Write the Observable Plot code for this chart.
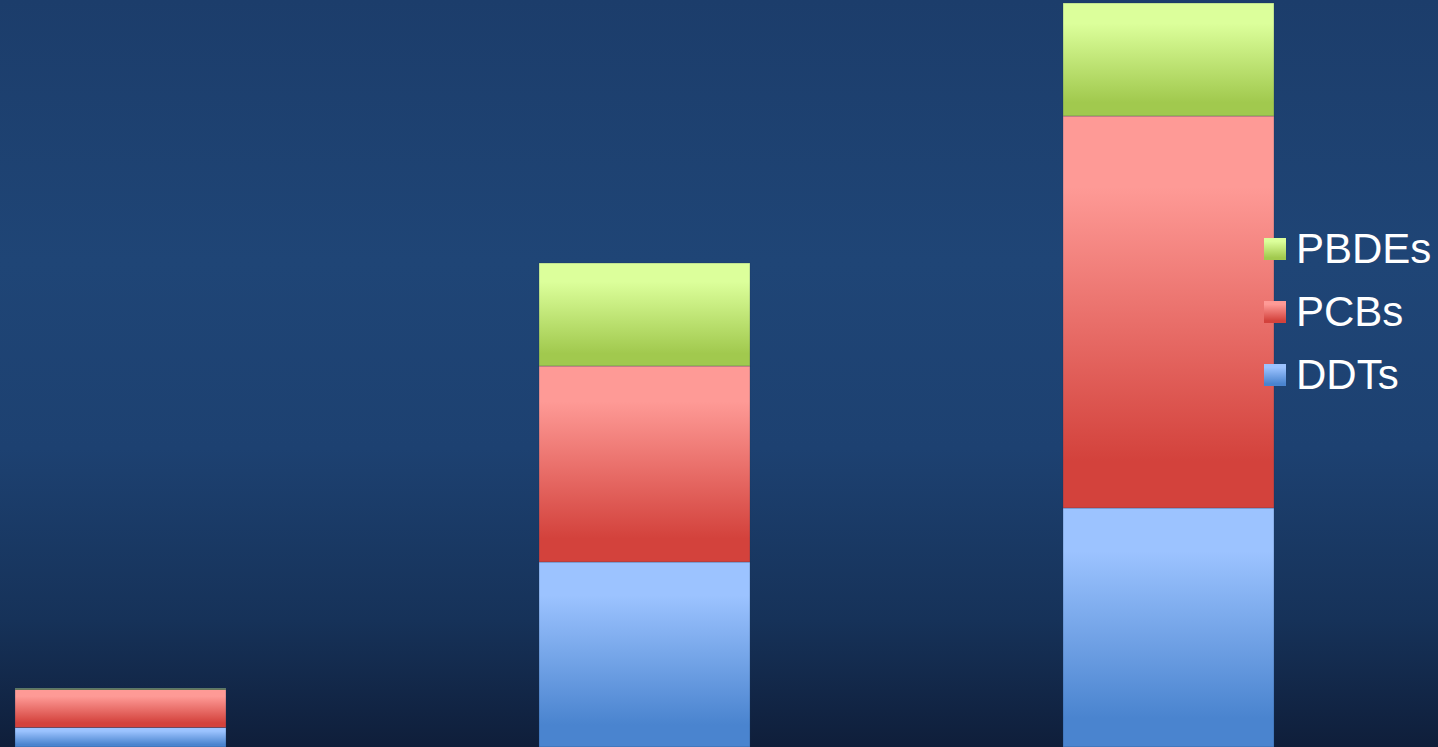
<!DOCTYPE html>
<html>
<head>
<meta charset="utf-8">
<script src="https://cdn.jsdelivr.net/npm/d3@7"></script>
<script src="https://cdn.jsdelivr.net/npm/@observablehq/plot@0.6"></script>
<style>
  html, body { margin: 0; padding: 0; background: #0f1e3a; overflow: hidden; }
  #wrap { position: relative; width: 1438px; height: 747px; }
  #legend { position: absolute; left: 1264px; top: 217px; font-family: "Liberation Sans", Arial, sans-serif; font-size: 42px; color: #ffffff; }
  .item { display: flex; align-items: center; height: 63px; }
  .sw { width: 22px; height: 22px; margin-right: 10px; }
</style>
</head>
<body>
<div id="wrap"></div>
<script>
const categories = ["Group 1", "Group 2", "Group 3"];
const seriesNames = ["DDTs", "PCBs", "PBDEs"];
const ddtValues = [19.5, 185, 239];
const pcbValues = [38, 196, 392];
const pbdeValues = [1, 103, 113];
const legendOrder = ["PBDEs", "PCBs", "DDTs"];
const gradientColors = {
  DDTs: ["#9cc3ff", "#4a84cf"],
  PCBs: ["#fe9a96", "#d3423c"],
  PBDEs: ["#dcff9b", "#a1c94e"]
};

const seriesValues = { DDTs: ddtValues, PCBs: pcbValues, PBDEs: pbdeValues };
const rows = [];
categories.forEach((c, i) => {
  seriesNames.forEach(s => rows.push({ category: c, series: s, value: seriesValues[s][i] }));
});
const gid = s => "grad-" + s;

const chart = Plot.plot({
  width: 1438,
  height: 747,
  margin: 0,
  style: {
    background: "linear-gradient(to bottom, #1c3d6b 0%, #1f4576 35%, #1d4171 60%, #163259 83%, #0f1e3a 100%)"
  },
  x: { domain: categories, range: [15, 1274], paddingInner: 0.5975, paddingOuter: 0, axis: null },
  y: { domain: [0, 744], range: [747, 3], axis: null },
  color: { domain: seriesNames, range: seriesNames.map(s => `url(#${gid(s)})`) },
  marks: [
    Plot.barY(rows, { x: "category", y: "value", fill: "series", stroke: "#1a3358", strokeOpacity: 0.35, strokeWidth: 0.8 })
  ]
});

const svg = d3.select(chart);
const defs = svg.insert("defs", ":first-child");
seriesNames.forEach(s => {
  const g = defs.append("linearGradient").attr("id", gid(s))
    .attr("x1", 0).attr("y1", 0).attr("x2", 0).attr("y2", 1);
  g.append("stop").attr("offset", "0%").attr("stop-color", gradientColors[s][0]);
  g.append("stop").attr("offset", "18%").attr("stop-color", gradientColors[s][0]);
  g.append("stop").attr("offset", "88%").attr("stop-color", gradientColors[s][1]);
  g.append("stop").attr("offset", "100%").attr("stop-color", gradientColors[s][1]);
});

const wrap = document.getElementById("wrap");
wrap.appendChild(chart);

const legend = document.createElement("div");
legend.id = "legend";
legendOrder.forEach(s => {
  const item = document.createElement("div");
  item.className = "item";
  const sw = document.createElement("div");
  sw.className = "sw";
  sw.style.background = `linear-gradient(to bottom, ${gradientColors[s][0]} 15%, ${gradientColors[s][1]} 90%)`;
  const label = document.createElement("span");
  label.textContent = s;
  item.appendChild(sw);
  item.appendChild(label);
  legend.appendChild(item);
});
wrap.appendChild(legend);
</script>
</body>
</html>
